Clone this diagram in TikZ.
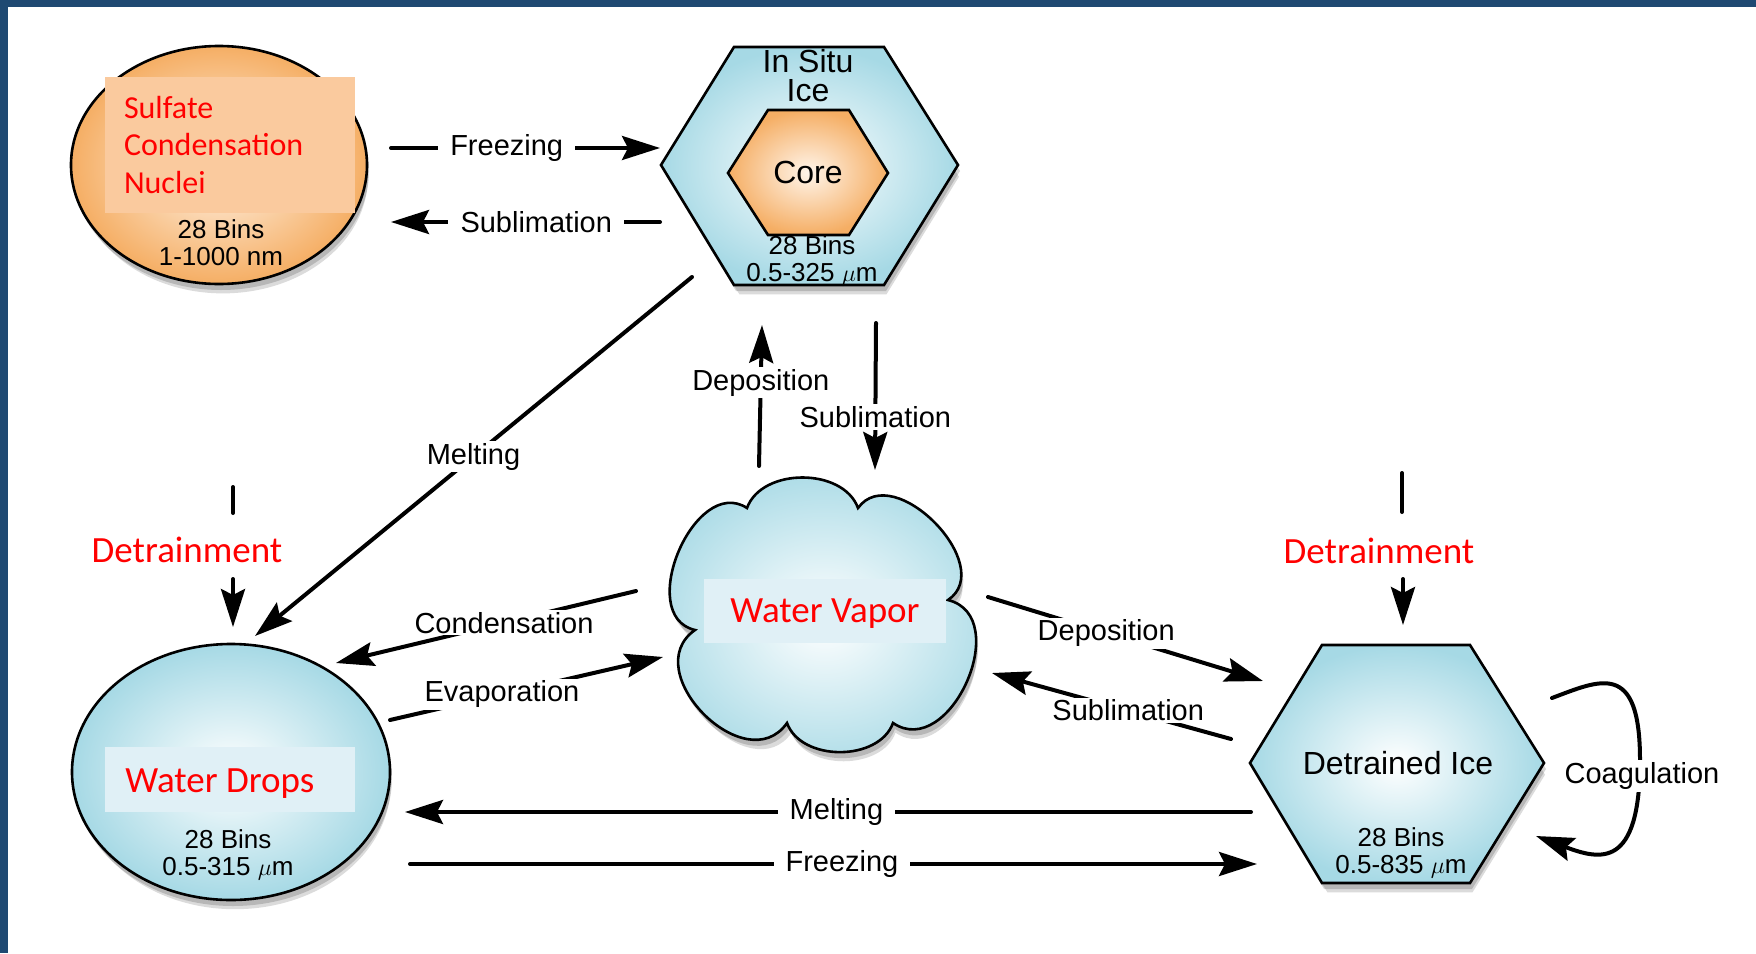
\documentclass[tikz,border=0pt]{standalone}
\usepackage{fontspec}
\setmainfont{Liberation Sans}
\newfontfamily\calibri{Carlito}
\usetikzlibrary{arrows.meta,shadows}

\definecolor{frameblue}{RGB}{31,73,114}
\definecolor{iceblue}{RGB}{166,217,229}
\definecolor{sulforange}{RGB}{245,174,100}
\definecolor{peach}{RGB}{250,202,158}
\definecolor{paleblue}{RGB}{224,240,246}

\tikzset{
  softshadow/.style={drop shadow={shadow xshift=1pt, shadow yshift=-3pt, fill=black, opacity=.16},
                     drop shadow={shadow xshift=2pt, shadow yshift=-6pt, shadow scale=.98, fill=black, opacity=.14}},
  icebody/.style={draw=black, line width=1.3pt, inner color=white, outer color=iceblue},
  orangebody/.style={draw=black, line width=1.3pt, inner color=orange!8!white, outer color=sulforange},
  flow/.style={line width=2pt, line cap=round, -{Stealth[length=19pt, width=12pt, inset=3pt]}},
  flowlabel/.style={fill=white, inner xsep=6pt, inner ysep=1pt, font=\fontsize{14.5}{17}\selectfont},
  namelabel/.style={align=center, font=\fontsize{16}{14.5}\selectfont},
  bins/.style={align=center, font=\fontsize{13}{13.5}\selectfont},
  redtext/.style={text=red, font=\calibri\fontsize{18.5}{22}\selectfont}
}

\begin{document}
\begin{tikzpicture}[x=0.5pt, y=0.5pt]
  \useasboundingbox (0,0) rectangle (1756,-953);
  \fill [white] (0,0) rectangle (1756,-953);
  \fill [frameblue] (0,0) rectangle (1756,-7);
  \fill [frameblue] (0,0) rectangle (8,-953);

  % particle groups
  \path [orangebody, softshadow] (219,-165) ellipse [x radius=148, y radius=119];
  \path [icebody, softshadow] (661,-165) -- (734,-47) -- (884,-47) -- (958,-165) -- (884,-285) -- (734,-285) -- cycle;
  \path [orangebody] (728,-173) -- (768,-110) -- (849,-110) -- (888,-173) -- (849,-235) -- (768,-235) -- cycle;
  \path [icebody, softshadow] (747,-508) to[out=70, in=110] (858,-508)
        to[out=54, in=34, looseness=1.2] (948,-600)
        to[out=-14, in=-34, looseness=1.3] (893,-723)
        to[out=-110, in=-70] (787,-723)
        to[out=-125, in=-145, looseness=1.4] (695,-630)
        to[out=167, in=147, looseness=1.2] cycle;
  \path [icebody, softshadow] (231,-772) ellipse [x radius=159, y radius=128];
  \path [icebody, softshadow] (1250,-763) -- (1322,-645) -- (1470,-645) -- (1544,-763) -- (1470,-883) -- (1322,-883) -- cycle;

  % texts of the groups
  \node [fill=peach, minimum width=125pt, minimum height=68pt, text width=106pt, inner xsep=9.5pt, align=flush left,
         text=red, font=\calibri\fontsize{16}{18.75}\selectfont] (sulfate) at (230,-145) {Sulfate\\Condensation\\Nuclei};
  \node [bins] (sulfatebins) at (221,-243) {28 Bins\\1-1000 nm};
  \node [namelabel] (insitu) at (808,-76) {In Situ\\Ice};
  \node [namelabel] (core) at (808,-172) {Core};
  \node [bins] (insitubins) at (812,-261) {28 Bins\\0.5-325 $\mu$m};
  \node [fill=paleblue, minimum width=121pt, minimum height=32pt, text depth=0pt, redtext] (vapor) at (825,-611) {Water Vapor};
  \node [fill=paleblue, minimum width=125pt, minimum height=32.5pt, redtext] (drops) at (230,-779) {};
  \node [redtext, anchor=west, inner sep=0pt] (dropstext) at (125,-784) {Water Drops};
  \node [bins] (dropsbins) at (228,-855) {28 Bins\\0.5-315 $\mu$m};
  \node [namelabel] (detrained) at (1398,-763) {Detrained Ice};
  \node [bins] (detrainedbins) at (1401,-853) {28 Bins\\0.5-835 $\mu$m};

  % end points of the processes
  \coordinate (frzA) at (391,-148);   \coordinate (frzB) at (660,-148);
  \coordinate (subA) at (660,-222);   \coordinate (subB) at (391,-222);
  \coordinate (meltA) at (692,-277);  \coordinate (meltB) at (255,-636);
  \coordinate (depA) at (759,-466);   \coordinate (depB) at (762,-325);
  \coordinate (subC) at (876,-323);   \coordinate (subD) at (875,-470);
  \coordinate (condA) at (636,-591);  \coordinate (condB) at (336,-663);
  \coordinate (evapA) at (390,-720);  \coordinate (evapB) at (663,-657);
  \coordinate (depC) at (988,-597);   \coordinate (depD) at (1263,-681);
  \coordinate (subE) at (1231,-739);  \coordinate (subF) at (992,-673);
  \coordinate (meltC) at (1251,-812); \coordinate (meltD) at (405,-812);
  \coordinate (frzC) at (410,-864);   \coordinate (frzD) at (1257,-864);
  \coordinate (coagA) at (1552,-698); \coordinate (coagB) at (1536,-836);

  % processes
  \draw [flow] (frzA) -- node [flowlabel, pos=.43] (frzlabel) {Freezing} (frzB);
  \draw [flow] (subA) -- node [flowlabel, pos=.46] (sublabel) {Sublimation} (subB);
  \draw [flow] (meltA) -- node [flowlabel, pos=.5] (meltlabel) {Melting} (meltB);
  \draw [flow] (depA) -- node [flowlabel, pos=.59] (deplabel) {Deposition} (depB);
  \draw [flow] (subC) -- node [flowlabel, pos=.64] (sublabelB) {Sublimation} (subD);
  \draw [flow] (condA) -- node [flowlabel, pos=.44] (condlabel) {Condensation} (condB);
  \draw [flow] (evapA) -- node [flowlabel, pos=.41] (evaplabel) {Evaporation} (evapB);
  \draw [flow] (depC) -- node [flowlabel, pos=.43] (deplabelB) {Deposition} (depD);
  \draw [flow] (subE) -- node [flowlabel, pos=.43] (sublabelC) {Sublimation} (subF);
  \draw [flow] (meltC) -- node [flowlabel, pos=.49] (meltlabelB) {Melting} (meltD);
  \draw [flow] (frzC) -- node [flowlabel, pos=.51] (frzlabelB) {Freezing} (frzD);
  \draw [flow] (coagA) .. controls (1600,-680) and (1640,-660) .. (1640,-760)
        .. controls (1640,-870) and (1600,-860) .. (coagB);
  \node [flowlabel, inner xsep=8pt] (coaglabel) at (1642,-776) {Coagulation};

  % detrainment
  \node [redtext] (detrainL) at (187,-550) {Detrainment};
  \coordinate (dtL1) at (233,-487); \coordinate (dtL2) at (233,-513);
  \coordinate (dtL3) at (233,-579); \coordinate (dtL4) at (233,-627);
  \draw [line width=2pt, line cap=round] (dtL1) -- (dtL2);
  \draw [flow] (dtL3) -- (dtL4);
  \node [redtext] (detrainR) at (1379,-551) {Detrainment};
  \coordinate (dtR1) at (1402,-473); \coordinate (dtR2) at (1402,-512);
  \coordinate (dtR3) at (1403,-579); \coordinate (dtR4) at (1403,-625);
  \draw [line width=2pt, line cap=round] (dtR1) -- (dtR2);
  \draw [flow] (dtR3) -- (dtR4);
\end{tikzpicture}
\end{document}
